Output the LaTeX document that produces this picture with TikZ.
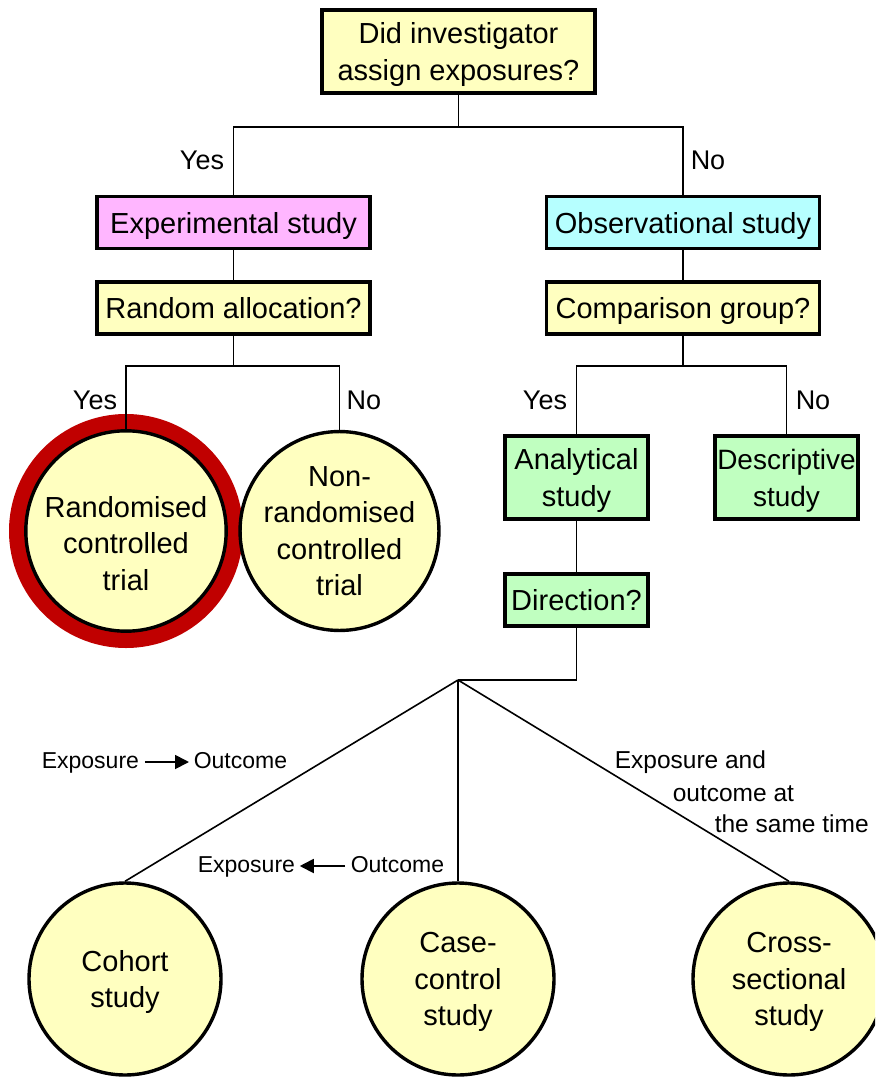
\documentclass[tikz,border=0pt]{standalone}
\usepackage{fontspec}
\setmainfont{Liberation Sans}
\usetikzlibrary{arrows.meta}

\definecolor{qyellow}{RGB}{255,255,192}
\definecolor{qpink}{RGB}{255,182,255}
\definecolor{qcyan}{RGB}{182,255,255}
\definecolor{qgreen}{RGB}{192,255,192}
\definecolor{qred}{RGB}{192,0,0}

\begin{document}
\begin{tikzpicture}[x=1pt,y=-1pt,
  line width=1.6pt,
  box/.style={draw,line width=3.6pt,inner sep=0pt,align=center,text depth=0pt,
    font=\fontsize{29}{37}\selectfont},
  widebox/.style={box,minimum width=273pt,minimum height=52pt},
  tallbox/.style={box,minimum width=143pt,minimum height=83pt,fill=qgreen},
  studycirc/.style={circle,draw,line width=3.4pt,fill=qyellow,
    minimum size=192pt,inner sep=0pt,align=center,text depth=0pt,
    font=\fontsize{29}{36.5}\selectfont},
  answer/.style={inner sep=0pt,font=\fontsize{27}{30}\selectfont},
  timing/.style={inner sep=3pt,font=\fontsize{23}{26}\selectfont,
    text height=17pt,text depth=5pt},
  note/.style={inner sep=0pt,anchor=base west,font=\fontsize{24.5}{27}\selectfont},
  flow/.style={-{Triangle[length=14pt,width=14pt]},line width=1.8pt,shorten <=2pt,shorten >=1pt}
]
\clip (0,0) rectangle (875,1078);
\fill[white] (0,0) rectangle (875,1078);

% question at the root
\node[box,fill=qyellow,minimum width=273pt,minimum height=83pt] (top) at (458.5,51.5)
  {Did investigator\\assign exposures?};

% first level
\node[widebox,fill=qpink] (exp) at (233.5,222.5) {Experimental study};
\node[widebox,fill=qcyan] (obs) at (683,222.5) {Observational study};
\node[widebox,fill=qyellow] (rand) at (233.5,308) {Random allocation?};
\node[widebox,fill=qyellow] (comp) at (683,308) {Comparison group?};

% experimental branch
\fill[qred] (126,531) circle (117);
\fill[white] (126,531) circle (100);
\node[studycirc] (rct) at (126,531) {\rule{0pt}{45pt}Randomised\\controlled\\trial};
\node[studycirc] (nrct) at (339.5,531) {Non-\\randomised\\controlled\\trial};

% observational branch
\node[tallbox] (anal) at (576.5,477.5) {Analytical\\study};
\node[tallbox,font=\fontsize{28}{37}\selectfont] (desc) at (786.5,477.5) {Descriptive\\study};
\node[box,fill=qgreen,minimum width=143pt,minimum height=52pt] (dir) at (576.5,600) {Direction?};

% analytical designs
\node[studycirc] (cohort) at (125,979) {Cohort\\study};
\node[studycirc] (casectl) at (458,979) {Case-\\control\\study};
\node[studycirc] (cross) at (789,979) {Cross-\\sectional\\study};

% junctions of the tree
\coordinate (j1) at (458.5,127);
\coordinate (j2) at (233.5,366);
\coordinate (j3) at (683,366);
\coordinate (j4) at (458,680);

\draw (top.south) -- (j1);
\draw (exp.north) |- (j1) -| (obs.north);
\draw (exp.south) -- (rand.north);
\draw (obs.south) -- (comp.north);
\draw (rand.south) -- (j2);
\draw (rct.north) |- (j2) -| (nrct.north);
\draw (comp.south) -- (j3);
\draw (anal.north) |- (j3) -| (desc.north);
\draw (anal.south) -- (dir.north);
\draw (dir.south) |- (j4);
\draw (j4) -- (cohort.north);
\draw (j4) -- (casectl.north);
\draw (j4) -- (cross.north);

% branch answers
\node[answer] (yes1) at (202,160) {Yes};
\node[answer] (no1) at (708,160) {No};
\node[answer] (yes2) at (95,400) {Yes};
\node[answer] (no2) at (364,400) {No};
\node[answer] (yes3) at (545,400) {Yes};
\node[answer] (no3) at (813,400) {No};

% timing of exposure and outcome
\node[timing,anchor=west] (e1) at (38,762) {Exposure};
\node[timing,anchor=west] (o1) at (190,762) {Outcome};
\draw[flow] (e1) -- (o1);
\node[timing,anchor=west] (e2) at (194,866) {Exposure};
\node[timing,anchor=west] (o2) at (347,866) {Outcome};
\draw[flow] (o2) -- (e2);

\node[note] (s1) at (614,768) {Exposure and};
\node[note] (s2) at (672,801) {outcome at};
\node[note] (s3) at (714,832) {the same time};
\end{tikzpicture}
\end{document}
